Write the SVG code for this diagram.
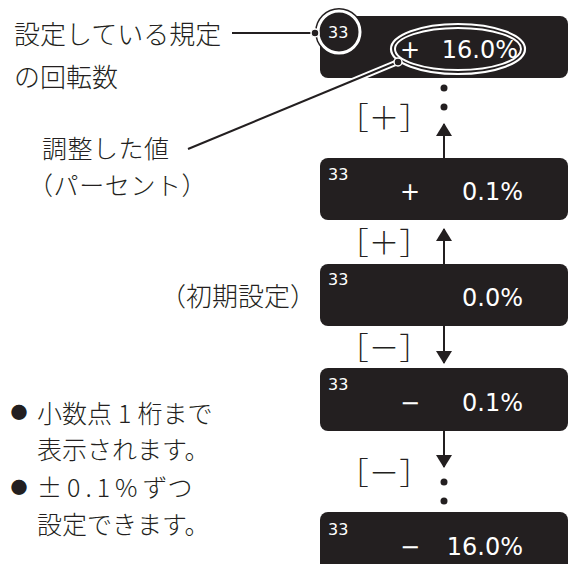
<svg xmlns="http://www.w3.org/2000/svg" width="569" height="564" viewBox="0 0 569 564">
<style>
.box{fill:#231f20}
.jp{font-family:"Noto Sans CJK JP","Noto Sans",sans-serif;fill:#231f20;font-weight:300}
.lbl{font-size:26px}
.lbs{font-size:25px}
.br{font-size:30.5px;text-anchor:middle}
.bl{font-size:25px}
.dot{font-size:17px;text-anchor:middle}
.num{font-family:"DejaVu Sans",sans-serif;fill:#ffffff}
.rpm{font-size:16px}
.val{font-size:24px;text-anchor:end}
.sgn{font-size:24px;text-anchor:middle}
.ln{stroke:#231f20;stroke-width:2;fill:none}
</style>
<defs>
<marker id="ah" viewBox="0 0 13 16" refX="12" refY="8" markerWidth="13" markerHeight="16" markerUnits="userSpaceOnUse" orient="auto">
<path d="M0,0 L13,8 L0,16 z" fill="#231f20"/>
</marker>
</defs>

<g id="labels">
<text class="jp lbl"><tspan x="14" y="44">設定している規定</tspan><tspan x="14" y="87">の回転数</tspan></text>
<text class="jp lbs"><tspan x="42" y="157.5" letter-spacing="0.5">調整した値</tspan><tspan x="28" y="194.5" letter-spacing="0.6">（パーセント）</tspan></text>
<text class="jp lbl" x="160" y="306">（初期設定）</text>
<text class="jp dot" x="19" y="419">●</text>
<text class="jp bl"><tspan x="37" y="423">小数点</tspan><tspan dx="6">1</tspan><tspan dx="6">桁まで</tspan><tspan x="37" y="459">表示されます。</tspan></text>
<text class="jp dot" x="19" y="494">●</text>
<text class="jp bl"><tspan x="37" y="497" letter-spacing="5">±0.1%</tspan><tspan>ずつ</tspan><tspan x="37" y="534">設定できます。</tspan></text>
</g>

<g id="node1">
<rect class="box" x="320" y="16" width="248" height="62" rx="8"/>
<circle cx="339" cy="32" r="24" fill="#231f20"/>
<circle cx="339" cy="32" r="21" fill="none" stroke="#ffffff" stroke-width="3"/>
<text class="num rpm" x="328" y="38">33</text>
<ellipse cx="458" cy="49" rx="67" ry="25" fill="none" stroke="#ffffff" stroke-width="2.2"/>
<ellipse cx="458" cy="49" rx="63" ry="21" fill="none" stroke="#ffffff" stroke-width="2"/>
<text class="num sgn" x="410" y="58">+</text>
<text class="num val" x="518" y="58">16.0%</text>
</g>

<g id="node2">
<rect class="box" x="320" y="158" width="248" height="62" rx="8"/>
<text class="num rpm" x="328" y="180">33</text>
<text class="num sgn" x="410" y="200">+</text>
<text class="num val" x="523" y="200">0.1%</text>
</g>

<g id="node3">
<rect class="box" x="320" y="264" width="248" height="62" rx="8"/>
<text class="num rpm" x="328" y="285">33</text>
<text class="num val" x="523" y="306">0.0%</text>
</g>

<g id="node4">
<rect class="box" x="320" y="368" width="248" height="63" rx="8"/>
<text class="num rpm" x="328" y="390">33</text>
<text class="num sgn" x="410" y="411">−</text>
<text class="num val" x="523" y="411">0.1%</text>
</g>

<g id="node5">
<rect class="box" x="320" y="512" width="248" height="62" rx="8"/>
<text class="num rpm" x="328" y="535">33</text>
<text class="num sgn" x="410" y="555">−</text>
<text class="num val" x="523" y="555">16.0%</text>
</g>

<g id="connectors">
<line class="ln" x1="232" y1="33" x2="315" y2="33"/>
<circle cx="315" cy="33" r="4" fill="#231f20" stroke="#ffffff" stroke-width="1.5"/>
<line x1="398" y1="62" x2="188" y2="149" stroke="#ffffff" stroke-width="6"/>
<line class="ln" x1="398" y1="62" x2="188" y2="149"/>
<circle cx="398" cy="62" r="4" fill="#231f20" stroke="#ffffff" stroke-width="1.5"/>

<line class="ln" x1="444" y1="158" x2="444" y2="124" marker-end="url(#ah)"/>
<circle cx="444" cy="88" r="3.5" fill="#231f20"/>
<circle cx="444" cy="107" r="3.5" fill="#231f20"/>
<line class="ln" x1="444" y1="264" x2="444" y2="229" marker-end="url(#ah)"/>
<line class="ln" x1="444" y1="326" x2="444" y2="363" marker-end="url(#ah)"/>
<line class="ln" x1="444" y1="431" x2="444" y2="467" marker-end="url(#ah)"/>
<circle cx="444" cy="482" r="3.5" fill="#231f20"/>
<circle cx="444" cy="501" r="3.5" fill="#231f20"/>

<text class="jp br" x="384" y="128.5">［＋］</text>
<text class="jp br" x="384" y="254">［＋］</text>
<text class="jp br" x="384" y="358.5">［－］</text>
<text class="jp br" x="384" y="483.5">［－］</text>
</g>
</svg>
